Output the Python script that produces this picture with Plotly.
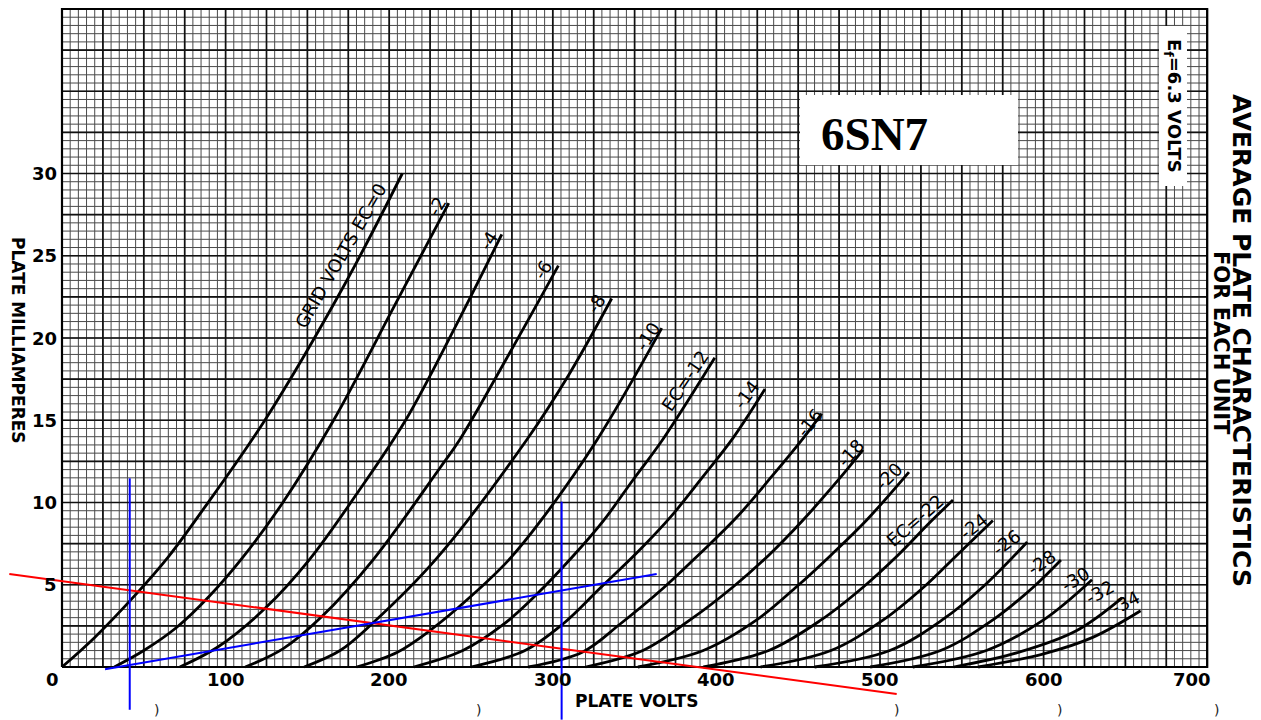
import plotly.graph_objects as go

# ---------------- data ----------------
grid_volts = ["0", "-2", "-4", "-6", "-8", "-10", "-12", "-14", "-16", "-18",
              "-20", "-22", "-24", "-26", "-28", "-30", "-32", "-34"]

curve_v = [
    [0, 20, 45, 65, 85, 124, 173, 208],
    [32, 50, 70, 90, 110, 135, 166, 204, 236.4],
    [72, 95, 124, 151, 180, 210, 240, 268.8],
    [112, 135, 159, 190, 231, 243, 272, 303.4],
    [148, 170, 190, 229, 284, 310, 336],
    [180, 205, 226, 250, 273, 293, 327, 366.6],
    [215, 245, 270, 290, 312, 331, 349, 367, 399],
    [250, 283, 306, 329, 352, 372.7, 392, 410, 429.7],
    [285, 318, 341, 367.6, 390, 412.4, 434, 453, 464.4],
    [320, 355, 383.9, 410.3, 432, 453, 474.5, 489.6],
    [352, 392, 424.6, 449, 470, 491.9, 517.7],
    [392, 432, 464, 490, 510, 530.6, 544.6],
    [427, 470, 502, 527, 547, 569],
    [460, 506, 538, 563, 590],
    [494, 537, 569, 594, 610.6],
    [520, 565, 600, 629.6],
    [545, 585, 620, 648],
    [560, 600, 630, 659.3],
]
curve_i = [
    [0, 1.8, 4.4, 6.7, 9.4, 15.0, 23.3, 30.0],
    [0, 1.0, 2.4, 4.3, 6.6, 10.0, 15.0, 22.1, 28.2],
    [0, 1.2, 3.55, 6.5, 10.5, 15.0, 20.6, 26.3],
    [0, 1.1, 3.08, 6.5, 12.1, 13.8, 18.8, 24.4],
    [0, 1.0, 2.67, 6.6, 13.8, 17.8, 22.4],
    [0, 0.9, 2.3, 4.3, 6.5, 8.94, 13.8, 20.6],
    [0, 1.0, 2.6, 4.4, 6.7, 8.9, 11.37, 13.8, 18.8],
    [0, 1.0, 2.6, 4.8, 7.0, 9.2, 11.6, 13.9, 16.9],
    [0, 0.9, 2.6, 4.8, 6.9, 9.1, 11.6, 13.9, 15.4],
    [0, 1.0, 2.86, 4.88, 6.8, 8.94, 11.37, 13.2],
    [0, 1.0, 2.86, 4.88, 6.8, 8.94, 11.85],
    [0, 1.0, 2.86, 4.88, 6.7, 8.8, 10.15],
    [0, 1.0, 2.86, 4.88, 6.8, 8.9],
    [0, 1.0, 2.86, 4.88, 7.6],
    [0, 1.0, 2.86, 4.88, 6.5],
    [0, 1.0, 2.86, 5.3],
    [0, 0.9, 2.2, 4.2],
    [0, 0.8, 1.8, 3.42],
]

# curve labels: text, plate volts, milliamperes, angle
label_text = ["GRID VOLTS EC=0", "-2", "-4", "-6", "-8", "-10", "EC=-12", "-14", "-16",
              "-18", "-20", "EC=-22", "-24", "-26", "-28", "-30", "-32", "-34"]
label_v = [170.5, 229.0, 261.0, 294.0, 326.5, 358.0, 381.0, 418.5, 457.2,
           481.7, 505.1, 521.5, 557.0, 577.4, 598.8, 619.2, 634.0, 650.0]
label_i = [25.0, 28.0, 25.9, 24.15, 22.1, 20.1, 17.4, 16.55, 14.85,
           13.0, 11.6, 8.9, 8.55, 7.55, 6.35, 5.3, 4.55, 3.9]
label_angle = [-60, -60, -58, -58, -57, -57, -56, -54, -51,
               -48, -45, -41, -38, -36, -34, -31, -29, -27]

# load lines drawn over the sheet
red_v = [-32.2, 510.2]
red_i = [5.65, -1.64]
blue_diag_v = [26.3, 363.5]
blue_diag_i = [-0.14, 5.65]
blue_vert1_v = [41.4, 41.4]
blue_vert1_i = [11.47, -2.6]
blue_vert2_v = [305.4, 305.4]
blue_vert2_i = [10.05, -3.2]

x_ticks = [0, 100, 200, 300, 400, 500, 600, 700]
y_ticks = [5, 10, 15, 20, 25, 30]

V_MAX, I_MAX = 700, 40
V_MINOR, I_MINOR = 5, 0.5

# ---------------- figure ----------------
# the page body has an 8px margin, so the figure starts at (8, 8) of the window
OFF = 8
W, H = 1261 - OFF, 720 - OFF
X0_PX, Y0_PX = 62, 667          # window pixels of (0 V, 0 mA)
PX_PER_V, PX_PER_MA = 1.636, 16.45
x_range = [-(X0_PX - OFF) / PX_PER_V, (W - (X0_PX - OFF)) / PX_PER_V]
y_range = [((Y0_PX - OFF) - H) / PX_PER_MA, (Y0_PX - OFF) / PX_PER_MA]


def pxv(px):
    return (px - X0_PX) / PX_PER_V


def pyi(py):
    return (Y0_PX - py) / PX_PER_MA


fig = go.Figure()


def grid_trace(step_v, step_i, color, width):
    xs, ys = [], []
    n = int(round(V_MAX / step_v))
    for k in range(n + 1):
        v = k * step_v
        xs += [v, v, None]
        ys += [0, I_MAX, None]
    m = int(round(I_MAX / step_i))
    for k in range(m + 1):
        i = k * step_i
        xs += [0, V_MAX, None]
        ys += [i, i, None]
    return go.Scatter(x=xs, y=ys, mode="lines", line=dict(color=color, width=width),
                      hoverinfo="skip", showlegend=False)


fig.add_trace(grid_trace(V_MINOR, I_MINOR, "#4a4a4a", 1))
fig.add_trace(grid_trace(V_MINOR * 5, I_MINOR * 5, "#111111", 1.7))
fig.add_trace(go.Scatter(x=[0, V_MAX, V_MAX, 0, 0], y=[0, 0, I_MAX, I_MAX, 0], mode="lines",
                         line=dict(color="#000", width=2.2), hoverinfo="skip", showlegend=False))

# white boxes
fig.add_shape(type="rect", x0=pxv(800), x1=pxv(1018), y0=pyi(165), y1=pyi(95),
              fillcolor="white", line=dict(width=0), layer="above")
fig.add_shape(type="rect", x0=pxv(1159), x1=pxv(1187), y0=pyi(186), y1=pyi(26),
              fillcolor="white", line=dict(width=0), layer="above")

# plate characteristic curves
for name, vs, is_ in zip(grid_volts, curve_v, curve_i):
    fig.add_trace(go.Scatter(x=vs, y=is_, mode="lines", name="Ec=" + name,
                             line=dict(color="#000", width=2.8, shape="spline", smoothing=1.0),
                             showlegend=False))

# load lines
for vs, is_, col in [(red_v, red_i, "#ff0000"), (blue_diag_v, blue_diag_i, "#0000ff"),
                     (blue_vert1_v, blue_vert1_i, "#0000ff"), (blue_vert2_v, blue_vert2_i, "#0000ff")]:
    fig.add_trace(go.Scatter(x=vs, y=is_, mode="lines", line=dict(color=col, width=2),
                             hoverinfo="skip", showlegend=False))

LAB_FONT = dict(family="DejaVu Sans", size=18, color="#000")
ann = []
for t, v, i, a in zip(label_text, label_v, label_i, label_angle):
    ann.append(dict(x=v, y=i, text=t, textangle=a, showarrow=False, font=LAB_FONT,
                    xanchor="center", yanchor="middle"))

TICK_FONT = dict(family="DejaVu Sans", size=18, color="#000", weight="bold")
for t in x_ticks:
    shift = -10 if t == 0 else (-15 if t == V_MAX else 0)
    ann.append(dict(x=t, y=pyi(679), text=str(t), showarrow=False, font=TICK_FONT,
                    xanchor="center", yanchor="middle", xshift=shift))
for t in y_ticks:
    ann.append(dict(x=pxv(59), y=t, text=str(t), showarrow=False, font=TICK_FONT,
                    xanchor="right", yanchor="middle"))

ann.append(dict(x=pxv(636), y=pyi(701), text="PLATE VOLTS", showarrow=False,
                font=dict(family="DejaVu Sans", size=17, color="#000", weight="bold"),
                xanchor="center", yanchor="middle"))
ann.append(dict(x=pxv(18), y=pyi(340), text="PLATE MILLIAMPERES", showarrow=False, textangle=90,
                font=dict(family="DejaVu Sans", size=17, color="#000", weight="bold"),
                xanchor="center", yanchor="middle"))
ann.append(dict(x=pxv(1242), y=pyi(340), text="AVERAGE PLATE CHARACTERISTICS", showarrow=False,
                textangle=90, font=dict(family="DejaVu Sans", size=25, color="#000", weight="bold"),
                xanchor="center", yanchor="middle"))
ann.append(dict(x=pxv(1221), y=pyi(343), text="FOR EACH UNIT", showarrow=False,
                textangle=90, font=dict(family="DejaVu Sans", size=21, color="#000", weight="bold"),
                xanchor="center", yanchor="middle"))
ann.append(dict(x=pxv(1173), y=pyi(106), text="E<sub>f</sub>=6.3 VOLTS", showarrow=False, textangle=90,
                font=dict(family="DejaVu Sans", size=18, color="#000", weight="bold"),
                xanchor="center", yanchor="middle"))
ann.append(dict(x=pxv(874), y=pyi(134), text="<b>6SN7</b>", showarrow=False,
                font=dict(family="Liberation Serif", size=47, color="#000"),
                xanchor="center", yanchor="middle"))
for px in [156, 478, 896, 1059, 1216]:
    ann.append(dict(x=pxv(px), y=pyi(710), text=")", showarrow=False,
                    font=dict(family="DejaVu Sans", size=14, color="#222"),
                    xanchor="center", yanchor="middle"))

fig.update_layout(
    width=W, height=H, margin=dict(l=0, r=0, t=0, b=0),
    paper_bgcolor="white", plot_bgcolor="white",
    xaxis=dict(range=x_range, visible=False, fixedrange=True),
    yaxis=dict(range=y_range, visible=False, fixedrange=True),
    annotations=ann, showlegend=False,
)
fig.write_html("out.html")
